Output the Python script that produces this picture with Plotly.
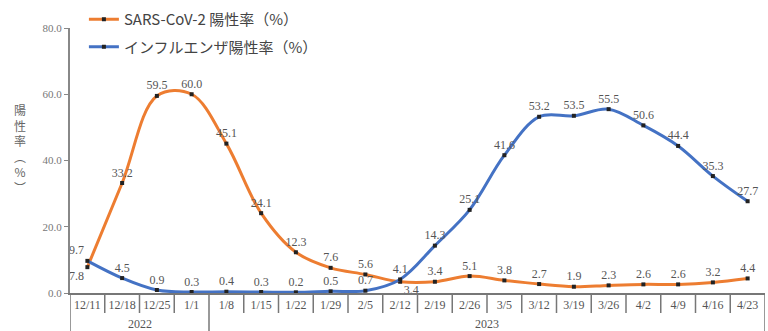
import plotly.graph_objects as go

weeks = ["12/11", "12/18", "12/25", "1/1", "1/8", "1/15", "1/22", "1/29", "2/5", "2/12",
         "2/19", "2/26", "3/5", "3/12", "3/19", "3/26", "4/2", "4/9", "4/16", "4/23"]
covid = [7.8, 33.2, 59.5, 60.0, 45.1, 24.1, 12.3, 7.6, 5.6, 3.4,
         3.4, 5.1, 3.8, 2.7, 1.9, 2.3, 2.6, 2.6, 3.2, 4.4]
flu = [9.7, 4.5, 0.9, 0.3, 0.4, 0.3, 0.2, 0.5, 0.7, 4.1,
       14.3, 25.1, 41.6, 53.2, 53.5, 55.5, 50.6, 44.4, 35.3, 27.7]
years = ["2022", "2023"]
year_spans = [(0, 3), (4, 19)]
yticks = [0, 20, 40, 60, 80]
ytitle = "陽<br>性<br>率<br>︵<br>%<br>︶"

x = list(range(len(weeks)))

covid_pos = ["top center"] * len(weeks)
covid_pos[0] = "bottom left"
covid_pos[9] = "bottom right"
flu_pos = ["top center"] * len(weeks)
flu_pos[0] = "top left"

label_font = dict(family="Liberation Serif", size=12, color="#555")

fig = go.Figure()
fig.add_trace(go.Scatter(
    x=x, y=covid, name="SARS-CoV-2 陽性率（%）", mode="lines+markers+text",
    line=dict(color="#ED7D31", width=3, shape="spline", smoothing=1),
    marker=dict(symbol="square", size=4, color="#222"),
    text=[f"{v:.1f}" for v in covid], textposition=covid_pos, textfont=label_font,
    cliponaxis=False, legendgroup="a"))
fig.add_trace(go.Scatter(
    x=x, y=flu, name="インフルエンザ陽性率（%）", mode="lines+markers+text",
    line=dict(color="#4472C4", width=3, shape="spline", smoothing=1),
    marker=dict(symbol="square", size=4, color="#222"),
    text=[f"{v:.1f}" for v in flu], textposition=flu_pos, textfont=label_font,
    cliponaxis=False, legendgroup="b"))

H_PLOT = 265.0
W_PLOT = 695.0
shapes = []
for k in range(len(weeks) + 1):
    long = k in (0, 4, len(weeks))
    shapes.append(dict(type="line", xref="x", yref="paper", x0=k - 0.5, x1=k - 0.5,
                       y0=0, y1=-(38 if long else 20) / H_PLOT,
                       line=dict(color="#777", width=1.5)))

annotations = []
for yr, (a, b) in zip(years, year_spans):
    annotations.append(dict(x=(a + b) / 2, y=-31 / H_PLOT, xref="x", yref="paper",
                            text=yr, showarrow=False, font=label_font,
                            xanchor="center", yanchor="middle"))
annotations.append(dict(x=-50 / W_PLOT, y=(293 - 148) / H_PLOT, xref="paper", yref="paper",
                        text=ytitle, showarrow=False,
                        font=dict(family="Noto Sans CJK JP", size=12, color="#666"),
                        xanchor="center", yanchor="middle"))

fig.update_layout(
    width=768, height=331,
    margin=dict(l=70, r=3, t=28, b=38),
    plot_bgcolor="white", paper_bgcolor="white",
    showlegend=True,
    legend=dict(x=0.02, y=1 + 25 / H_PLOT, xanchor="left", yanchor="top",
                font=dict(family="Noto Sans CJK JP", size=15, color="#444"),
                tracegroupgap=5, itemwidth=30, bgcolor="rgba(0,0,0,0)"),
    xaxis=dict(range=[-0.5, len(weeks) - 0.5], tickvals=x, ticktext=weeks,
               showgrid=False, zeroline=False, showline=True, linecolor="#777",
               linewidth=1.5, ticks="", tickfont=label_font),
    yaxis=dict(range=[0, 80], tickvals=yticks, tickformat=".1f", showgrid=False,
               zeroline=False, showline=True, linecolor="#888", linewidth=2,
               ticks="outside", ticklen=4, tickcolor="#888",
               tickfont=dict(family="Liberation Serif", size=11, color="#777")),
    shapes=shapes, annotations=annotations,
)
fig.write_html("out.html")
